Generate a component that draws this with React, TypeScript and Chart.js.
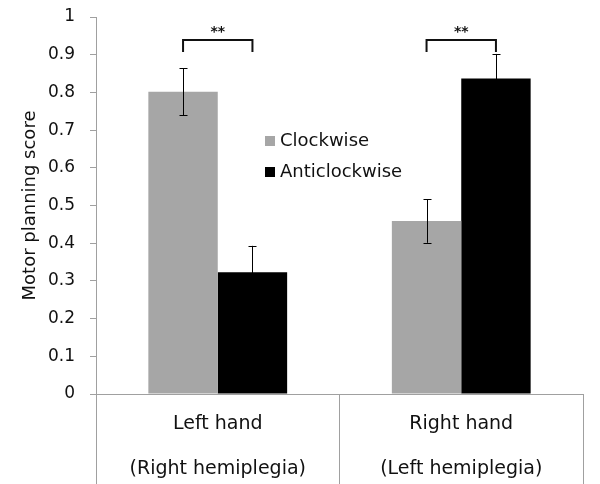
import React, { useEffect, useRef } from "react";
import { Chart, registerables } from "chart.js";

Chart.register(...registerables);

const categories: string[][] = [["Left hand", "(Right hemiplegia)"], ["Right hand", "(Left hemiplegia)"]];
const seriesNames = ["Clockwise", "Anticlockwise"];
const clockwise = [0.802, 0.459];
const anticlockwise = [0.323, 0.837];
const clockwiseErr = [0.062, 0.058];
const anticlockwiseErr = [0.07, 0.065];
const bracketLevel = [0.94, 0.94];
const bracketLabels = ["**", "**"];
const yTicks = [0, 0.1, 0.2, 0.3, 0.4, 0.5, 0.6, 0.7, 0.8, 0.9, 1];

const FONT = "'DejaVu Sans', sans-serif";

export default function App() {
  const ref = useRef<HTMLCanvasElement | null>(null);
  useEffect(() => {
    const errs = [clockwiseErr, anticlockwiseErr];
    const overlay = {
      id: "overlay",
      afterDatasetsDraw(chart: any) {
        const ctx = chart.ctx;
        const y = chart.scales.y;
        ctx.save();
        // error bars
        ctx.strokeStyle = "#000";
        ctx.lineWidth = 1;
        chart.data.datasets.forEach((ds: any, di: number) => {
          const meta = chart.getDatasetMeta(di);
          meta.data.forEach((bar: any, i: number) => {
            const v = ds.data[i];
            const e = errs[di][i];
            const x = Math.round(bar.x) + 0.5;
            const yt = y.getPixelForValue(v + e);
            const yb = y.getPixelForValue(v - e);
            ctx.beginPath();
            ctx.moveTo(x, yt);
            ctx.lineTo(x, yb);
            ctx.moveTo(x - 4, Math.round(yt) + 0.5);
            ctx.lineTo(x + 4, Math.round(yt) + 0.5);
            ctx.moveTo(x - 4, Math.round(yb) + 0.5);
            ctx.lineTo(x + 4, Math.round(yb) + 0.5);
            ctx.stroke();
          });
        });
        // significance brackets
        const m0 = chart.getDatasetMeta(0);
        const m1 = chart.getDatasetMeta(1);
        ctx.strokeStyle = "#111";
        ctx.lineWidth = 2;
        ctx.fillStyle = "#111";
        ctx.font = "bold 14px " + FONT;
        ctx.textAlign = "center";
        ctx.textBaseline = "middle";
        bracketLevel.forEach((lvl, i) => {
          const x0 = m0.data[i].x;
          const x1 = m1.data[i].x;
          const yt = Math.round(y.getPixelForValue(lvl));
          const yb = yt + 12;
          ctx.beginPath();
          ctx.moveTo(x0, yb);
          ctx.lineTo(x0, yt);
          ctx.lineTo(x1, yt);
          ctx.lineTo(x1, yb);
          ctx.stroke();
          ctx.fillText(bracketLabels[i], (x0 + x1) / 2, yt - 8);
        });
        // legend
        ctx.font = "18px " + FONT;
        ctx.textAlign = "left";
        ctx.textBaseline = "middle";
        chart.data.datasets.forEach((ds: any, di: number) => {
          const cy = 141 + di * 31;
          ctx.fillStyle = ds.backgroundColor;
          ctx.fillRect(265, cy - 5, 10, 10);
          ctx.fillStyle = "#111";
          ctx.fillText(ds.label, 280, cy);
        });
        ctx.restore();
      },
    };
    const chart = new Chart(ref.current as HTMLCanvasElement, {
      type: "bar",
      data: {
        labels: categories,
        datasets: [
          { label: seriesNames[0], data: clockwise, backgroundColor: "#a6a6a6", borderWidth: 0 },
          { label: seriesNames[1], data: anticlockwise, backgroundColor: "#000000", borderWidth: 0 },
        ],
      },
      options: {
        animation: false,
        responsive: false,
        maintainAspectRatio: false,
        layout: { padding: { left: 0, right: 17, top: 17, bottom: 0 } },
        plugins: { legend: { display: false }, tooltip: { enabled: false } },
        datasets: { bar: { categoryPercentage: 0.57, barPercentage: 1 } },
        scales: {
          x: {
            grid: { offset: true, drawOnChartArea: false, tickLength: 90, color: "#a0a0a0", lineWidth: 1 },
            border: { color: "#a0a0a0" },
            ticks: {
              color: "#111",
              font: { family: FONT, size: 19, lineHeight: 45 / 19 },
              padding: -82,
            },
            afterFit(scale: any) {
              scale.height = 90;
            },
          },
          y: {
            min: 0,
            max: 1,
            afterBuildTicks(scale: any) {
              scale.ticks = yTicks.map((v) => ({ value: v }));
            },
            grid: { drawOnChartArea: false, tickLength: 6, color: "#a0a0a0" },
            border: { color: "#a0a0a0" },
            ticks: {
              color: "#111",
              font: { family: FONT, size: 17 },
              padding: 15,
              callback: (v: any) => String(Math.round(Number(v) * 10) / 10),
            },
            title: {
              display: true,
              text: "Motor planning score",
              color: "#111",
              font: { family: FONT, size: 18 },
              padding: { top: 20, bottom: 0 },
            },
            afterFit(scale: any) {
              scale.width = 96;
              scale.paddingTop = 10;
              scale.paddingBottom = 10;
            },
          },
        },
      },
      plugins: [overlay],
    } as any);
    return () => chart.destroy();
  }, []);
  return (
    <div style={{ position: "fixed", left: 0, top: 0, width: 600, height: 484, background: "#fff" }}>
      <canvas ref={ref} width={600} height={484} style={{ width: 600, height: 484 }} />
    </div>
  );
}
